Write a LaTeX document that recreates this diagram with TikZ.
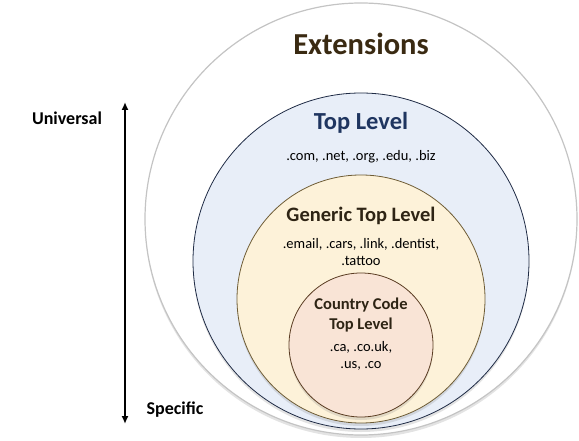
\documentclass[tikz,border=0pt]{standalone}
\usepackage{fontspec}
\setmainfont{Carlito}
\usetikzlibrary{arrows.meta,shadows}
\definecolor{outerline}{HTML}{C4C4C4}
\definecolor{tlfill}{HTML}{E8EEF8}
\definecolor{tlline}{HTML}{1F2B45}
\definecolor{gfill}{HTML}{FDF2D9}
\definecolor{gline}{HTML}{6E5C35}
\definecolor{cfill}{HTML}{F9E4D6}
\definecolor{cline}{HTML}{5A3C22}
\definecolor{exttext}{HTML}{3A2A12}
\definecolor{tltext}{HTML}{1F3560}
\definecolor{gtext}{HTML}{2E2414}
\tikzset{
  ring/.style={circle, inner sep=0pt, line width=0.8pt},
  shade/.style={drop shadow={shadow xshift=0bp, shadow yshift=-3bp, opacity=0.18, fill=black!60}},
  head/.style={font=\bfseries, align=center, inner sep=0pt},
  ext/.style={font=\fontsize{14.5bp}{17.5bp}\selectfont, align=center, inner sep=0pt},
  side/.style={font=\bfseries\fontsize{18bp}{20bp}\selectfont, inner sep=0pt},
}
\begin{document}
\begin{tikzpicture}[x=1bp,y=-1bp]
\useasboundingbox (0,0) rectangle (579,441);
% circles
\node[ring, shade, draw=outerline, line width=1.2bp, fill=white, minimum size=432bp] (outer) at (361,219) {};
\node[ring, shade, draw=tlline, fill=tlfill, minimum size=336bp] (tl) at (361,261) {};
\node[ring, shade, draw=gline, fill=gfill, minimum size=248bp] (gen) at (361,299) {};
\node[ring, shade, draw=cline, fill=cfill, minimum size=144bp] (cc) at (361,345) {};
% texts
\node[head, text=exttext, font=\bfseries\fontsize{30.5bp}{32bp}\selectfont] (exttitle) at (361,44) {Extensions};
\node[head, text=tltext, font=\bfseries\fontsize{24.5bp}{26bp}\selectfont] (tltitle) at (361,123) {Top Level};
\node[ext] (tlext) at (361,157) {.com, .net, .org, .edu, .biz};
\node[head, text=gtext, font=\bfseries\fontsize{20.5bp}{22bp}\selectfont] (gtitle) at (361,216) {Generic Top Level};
\node[ext] (gext) at (361,252) {.email, .cars, .link, .dentist,\\.tattoo};
\node[head, text=gtext, font=\bfseries\fontsize{16.5bp}{20bp}\selectfont] (cctitle) at (361,315) {Country Code\\Top Level};
\node[ext] (ccext) at (361,356) {.ca, .co.uk,\\.us, .co};
% arrow
\coordinate (atop) at (125,102);
\coordinate (abot) at (125,424);
\draw[line width=2.4bp, {Latex[length=8bp,width=7bp]}-{Latex[length=8bp,width=7bp]}] (atop) -- (abot);
\node[side] (univ) at (67,118) {Universal};
\node[side] (spec) at (175,410) {Specific};
\end{tikzpicture}
\end{document}
